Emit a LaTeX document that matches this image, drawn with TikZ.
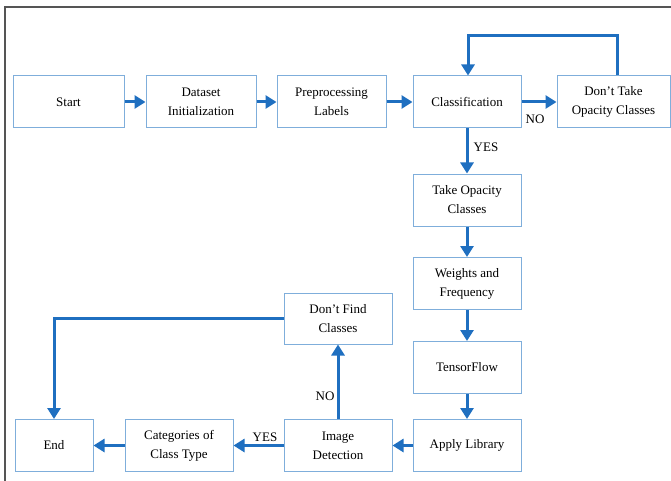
\documentclass[tikz,border=0pt]{standalone}
\usepackage{fontspec}
\setmainfont{Liberation Serif}
\usetikzlibrary{arrows.meta}
\definecolor{boxblue}{HTML}{7FAEDB}
\definecolor{arrowblue}{HTML}{1F6FC0}
\definecolor{framegray}{HTML}{555555}
\begin{document}
\begin{tikzpicture}[x=1pt,y=-1pt,
  box/.style={draw=boxblue, line width=1pt, fill=white, align=center,
    font=\fontsize{13}{19}\selectfont, inner sep=0pt, minimum height=52pt},
  flow/.style={draw=arrowblue, line width=3pt,
    -{Triangle[length=11pt,width=13pt]}},
  lab/.style={font=\fontsize{13}{15}\selectfont}]
\useasboundingbox (0,0) rectangle (671,481);
\draw[framegray, line width=1.5pt] (5,481) -- (5,7) -- (671,7);

\node[box, minimum width=111pt] (start) at (68.5,102) {Start};
\node[box, minimum width=110pt] (ds) at (201,102) {Dataset\\Initialization};
\node[box, minimum width=109pt] (pre) at (331.5,102) {Preprocessing\\Labels};
\node[box, minimum width=108pt] (cls) at (467,102) {Classification};
\node[box, minimum width=113pt] (dt) at (613.5,102) {Don't Take\\Opacity Classes};
\node[box, minimum width=108pt] (to) at (467,200) {Take Opacity\\Classes};
\node[box, minimum width=108pt] (wf) at (467,283.5) {Weights and\\Frequency};
\node[box, minimum width=108pt] (tf) at (467,367.5) {TensorFlow};
\node[box, minimum width=108pt] (al) at (467,445.5) {Apply Library};
\node[box, minimum width=108pt] (id) at (338,445.5) {Image\\Detection};
\node[box, minimum width=108pt] (cat) at (179,445.5) {Categories of\\Class Type};
\node[box, minimum width=78pt] (end) at (54,445.5) {End};
\node[box, minimum width=108pt, minimum height=51pt] (df) at (338,318.5) {Don't Find\\Classes};

\coordinate (loopR) at (617,36);
\coordinate (loopL) at (468,36);

\draw[flow] (start) -- (ds);
\draw[flow] (ds) -- (pre);
\draw[flow] (pre) -- (cls);
\draw[flow] (cls) -- (dt);
\draw[flow] (dt.north -| loopR) -- (loopR) -- (loopL) -- (cls.north -| loopL);
\draw[flow] (cls) -- (to);
\draw[flow] (to) -- (wf);
\draw[flow] (wf) -- (tf);
\draw[flow] (tf) -- (al);
\draw[flow] (al) -- (id);
\draw[flow] (id) -- (cat);
\draw[flow] (cat) -- (end);
\draw[flow] (id) -- (df);
\draw[flow] (df.west) -| (end.north);

\node[lab] (no1) at (535,119) {NO};
\node[lab] (yes1) at (486,147) {YES};
\node[lab] (no2) at (325,396) {NO};
\node[lab] (yes2) at (265,437) {YES};
\end{tikzpicture}
\end{document}
